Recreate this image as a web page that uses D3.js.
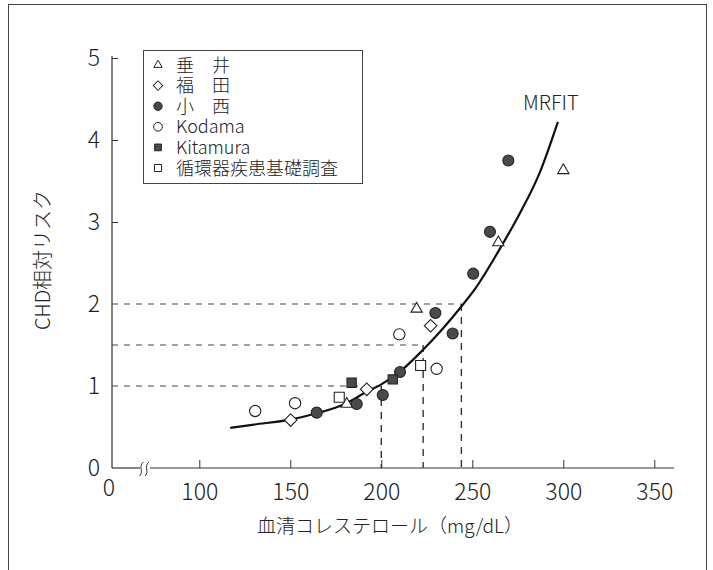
<!DOCTYPE html>
<html lang="ja"><head>
<meta charset="utf-8">
<title>CHD相対リスク</title>
<script src="https://cdn.jsdelivr.net/npm/d3@7"></script>
<style>
body { margin: 0; background: #fff; }
text { font-family: "Noto Sans CJK JP", "Noto Sans", sans-serif; font-weight: 300; fill: #222; }
</style>
</head>
<body>
<div id="chart"></div>
<script>

// serum cholesterol (mg/dL) vs CHD relative risk
var tarui    = [[181, 0.78], [219.4, 1.94], [264.3, 2.75], [300, 3.63]];
var fukuda   = [[150.2, 0.585], [192, 0.96], [227.1, 1.735]];
var konishi  = [[164.5, 0.675], [186.5, 0.78], [200.8, 0.89], [210.3, 1.17], [229.7, 1.89],
                [239.2, 1.64], [250.5, 2.37], [259.7, 2.88], [269.8, 3.75]];
var kodama   = [[130.7, 0.695], [152.6, 0.79], [209.9, 1.63], [230.4, 1.21]];
var kitamura = [[183.7, 1.04], [206.3, 1.08]];
var junkanki = [[176.9, 0.862], [221.6, 1.25]];

// MRFIT curve
var mrfitX = [117, 130, 150, 165, 180, 192, 200, 210, 222, 233, 244, 252, 264, 276, 287, 297];
var mrfitY = [0.49, 0.53, 0.59, 0.67, 0.78, 0.93, 1.02, 1.17, 1.42, 1.68, 1.97, 2.2, 2.63, 3.1, 3.6, 4.22];

// reference lines: cholesterol -> risk
var refX = [200, 223, 244];
var refY = [1, 1.5, 2];

var xTicks = [100, 150, 200, 250, 300, 350];
var yTicks = [0, 1, 2, 3, 4, 5];

var seriesNames = ["垂\u3000井", "福\u3000田", "小\u3000西", "Kodama", "Kitamura", "循環器疾患基礎調査"];

var width = 713;
var height = 570;

var svg = d3.select("#chart").append("svg")
        .attr("width", width)
        .attr("height", height);

svg.append("rect")
        .attr("x", 8.5).attr("y", 4.5)
        .attr("width", 698).attr("height", 600)
        .attr("fill", "none")
        .attr("stroke", "#444")
        .attr("stroke-width", 1);

var x = d3.scaleLinear().domain([100, 350]).range([199.3, 654.3]);
var y = d3.scaleLinear().domain([0, 5]).range([468, 58]);
var x0 = 112;   // broken axis origin
var xEnd = 674;

// axes
var xAxis = svg.append("g")
        .attr("transform", "translate(0," + y(0) + ")")
        .call(d3.axisBottom(x).tickValues(xTicks).tickSize(-8).tickPadding(16).tickFormat(d3.format("d")));
xAxis.select(".domain").remove();
xAxis.selectAll("line").attr("stroke", "#333");
xAxis.selectAll("text").attr("font-size", 23).attr("fill", "#222")
        .attr("font-family", "'Noto Sans CJK JP', sans-serif");

var yAxis = svg.append("g")
        .attr("transform", "translate(" + x0 + ",0)")
        .call(d3.axisLeft(y).tickValues(yTicks).tickSize(-6).tickPadding(12).tickFormat(d3.format("d")));
yAxis.select(".domain").remove();
yAxis.selectAll(".tick line")
        .attr("stroke", "#333")
        .attr("display", function (d) { return d >= 3 ? null : "none"; });
yAxis.selectAll("text").attr("font-size", 23).attr("fill", "#222")
        .attr("font-family", "'Noto Sans CJK JP', sans-serif");

// axis lines, x axis has a break near the origin
svg.append("line")
        .attr("x1", x0).attr("y1", y(0))
        .attr("x2", x0).attr("y2", y(5) - 2)
        .attr("stroke", "#333").attr("stroke-width", 1.2);
svg.append("line")
        .attr("x1", x0).attr("y1", y(0))
        .attr("x2", 140).attr("y2", y(0))
        .attr("stroke", "#333").attr("stroke-width", 1.2);
svg.append("line")
        .attr("x1", 150).attr("y1", y(0))
        .attr("x2", xEnd).attr("y2", y(0))
        .attr("stroke", "#333").attr("stroke-width", 1.2);
[140.5, 146].forEach(function (bx) {
  svg.append("path")
        .attr("d", "M" + (bx - 1) + "," + (y(0) + 8) +
              " C" + (bx + 4) + "," + (y(0) + 3) + " " + (bx - 3) + "," + (y(0) - 1) + " " + (bx + 3) + "," + (y(0) - 6))
        .attr("fill", "none")
        .attr("stroke", "#333")
        .attr("stroke-width", 1);
});

svg.append("text")
        .attr("x", x0 - 3).attr("y", y(0) + 28)
        .attr("text-anchor", "middle")
        .attr("font-size", 23)
        .text("0");

// dashed reference lines
for (var i = 0; i < refX.length; i++) {
  svg.append("line")
        .attr("x1", x0).attr("y1", y(refY[i]))
        .attr("x2", x(refX[i])).attr("y2", y(refY[i]))
        .attr("stroke", "#444").attr("stroke-width", 1.1)
        .attr("stroke-dasharray", "6,6");
  svg.append("line")
        .attr("x1", x(refX[i])).attr("y1", y(refY[i]))
        .attr("x2", x(refX[i])).attr("y2", y(0))
        .attr("stroke", "#333").attr("stroke-width", 1.4)
        .attr("stroke-dasharray", "7,6");
}

// MRFIT curve
var curveData = mrfitX.map(function (d, i) { return [d, mrfitY[i]]; });
svg.append("path")
        .datum(curveData)
        .attr("fill", "none")
        .attr("stroke", "#111")
        .attr("stroke-width", 2.2)
        .attr("d", d3.line()
                .x(function (d) { return x(d[0]); })
                .y(function (d) { return y(d[1]); })
                .curve(d3.curveMonotoneX));

svg.append("text")
        .attr("x", 523).attr("y", 110)
        .attr("font-size", 20)
        .text("MRFIT");

// markers
var styles = [
  {data: tarui,    type: d3.symbolTriangle, size: 55, rot: 0,  fill: "#fff", legendSize: 30},
  {data: fukuda,   type: d3.symbolSquare,   size: 80, rot: 45, fill: "#fff", legendSize: 45},
  {data: konishi,  type: d3.symbolCircle,   size: 95, rot: 0,  fill: "#4a4a4a", legendSize: 55},
  {data: kodama,   type: d3.symbolCircle,   size: 100, rot: 0, fill: "#fff", legendSize: 60},
  {data: kitamura, type: d3.symbolSquare,   size: 85, rot: 0,  fill: "#4a4a4a", legendSize: 45},
  {data: junkanki, type: d3.symbolSquare,   size: 100, rot: 0, fill: "#fff", legendSize: 50}
];

styles.forEach(function (s) {
  svg.append("g").selectAll("path")
        .data(s.data)
        .enter().append("path")
        .attr("d", d3.symbol().type(s.type).size(s.size))
        .attr("transform", function (d) {
          return "translate(" + x(d[0]) + "," + y(d[1]) + ") rotate(" + s.rot + ")";
        })
        .attr("fill", s.fill)
        .attr("stroke", "#222")
        .attr("stroke-width", 1.1);
});

// legend
var legend = svg.append("g");
legend.append("rect")
        .attr("x", 143.5).attr("y", 50.5)
        .attr("width", 219).attr("height", 133)
        .attr("fill", "#fff")
        .attr("stroke", "#444")
        .attr("stroke-width", 1);

var rows = legend.selectAll("g.row")
        .data(styles)
        .enter().append("g")
        .attr("class", "row")
        .attr("transform", function (d, i) { return "translate(158," + (65 + i * 20.6) + ")"; });

rows.append("path")
        .attr("d", function (d) { return d3.symbol().type(d.type).size(d.legendSize)(); })
        .attr("transform", function (d) { return "rotate(" + d.rot + ")"; })
        .attr("fill", function (d) { return d.fill; })
        .attr("stroke", "#222")
        .attr("stroke-width", 1);

rows.append("text")
        .attr("x", 18)
        .attr("y", 6.5)
        .attr("font-size", 18)
        .text(function (d, i) { return seriesNames[i]; });

// axis titles
svg.append("text")
        .attr("x", 390).attr("y", 533)
        .attr("text-anchor", "middle")
        .attr("font-size", 19)
        .text("血清コレステロール（mg/dL）");

svg.append("text")
        .attr("transform", "translate(50,260) rotate(-90)")
        .attr("text-anchor", "middle")
        .attr("font-size", 20)
        .text("CHD相対リスク");

</script>
</body></html>
